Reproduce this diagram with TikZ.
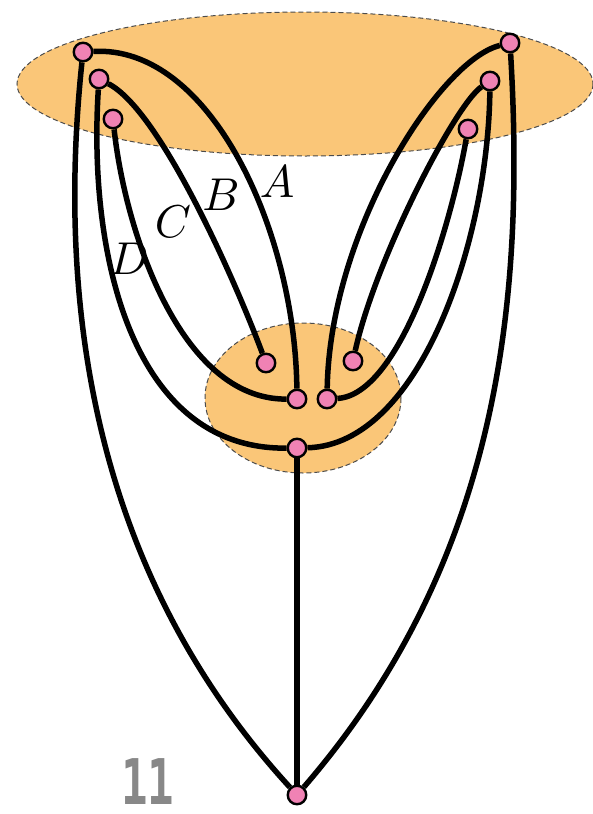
\documentclass[tikz,border=0pt]{standalone}
\usepackage{fontspec}
\newfontfamily\numfont{DejaVu Sans Mono}
\definecolor{vpink}{RGB}{240,130,180}
\definecolor{blobfill}{RGB}{250,198,120}
\definecolor{numgrey}{RGB}{136,136,136}
\tikzset{
  vtx/.style={circle,draw=black,fill=vpink,minimum size=18.5pt,inner sep=0pt,line width=2.4pt},
  edge/.style={line width=5.5pt,black},
  blob/.style={fill=blobfill,draw=black!70,dash pattern=on 5pt off 3pt,line width=1pt},
  lbl/.style={scale=4.6,inner sep=0pt}
}
\begin{document}
\begin{tikzpicture}[x=1pt,y=-1pt]
\useasboundingbox (0,0) rectangle (593,814);
% regions
\path[blob] (305,84) ellipse [x radius=288, y radius=72];
\path[blob] (303,398) ellipse [x radius=98, y radius=75];
% vertices
\node[vtx] (L1) at (83,52) {};
\node[vtx] (L2) at (99,79) {};
\node[vtx] (L3) at (113,119) {};
\node[vtx] (R1) at (510,43) {};
\node[vtx] (R2) at (490,81) {};
\node[vtx] (R3) at (468,129) {};
\node[vtx] (M1) at (266,363) {};
\node[vtx] (M2) at (297,399) {};
\node[vtx] (M3) at (327,399) {};
\node[vtx] (M4) at (353,361) {};
\node[vtx] (M5) at (297,448) {};
\node[vtx] (B) at (297,795) {};
% left side
\draw[edge] (L1) .. controls (210,45) and (295,230) .. (M2);
\draw[edge] (L2) .. controls (160,110) and (235,280) .. (M1);
\draw[edge] (L3) .. controls (125,230) and (180,400) .. (M2);
\draw[edge] (L2) .. controls (88,250) and (130,450) .. (M5);
\draw[edge] (L1) .. controls (55,320) and (100,580) .. (B);
% right side
\draw[edge] (R1) .. controls (440,60) and (330,230) .. (M3);
\draw[edge] (R2) .. controls (455,105) and (375,260) .. (M4);
\draw[edge] (R3) .. controls (450,230) and (400,395) .. (M3);
\draw[edge] (R2) .. controls (488,240) and (420,445) .. (M5);
\draw[edge] (R1) .. controls (525,300) and (500,560) .. (B);
% stem
\draw[edge] (M5) -- (B);
% labels
\node[lbl] (la) at (277,182) {$A$};
\node[lbl] (lb) at (221,195) {$B$};
\node[lbl] (lc) at (173,222) {$C$};
\node[lbl] (ld) at (129,259) {$D$};
\node[text=numgrey,xscale=0.7,inner sep=0pt,anchor=base] (num) at (148,804) {\fontsize{63}{68}\selectfont\numfont\bfseries 11};
\end{tikzpicture}
\end{document}
